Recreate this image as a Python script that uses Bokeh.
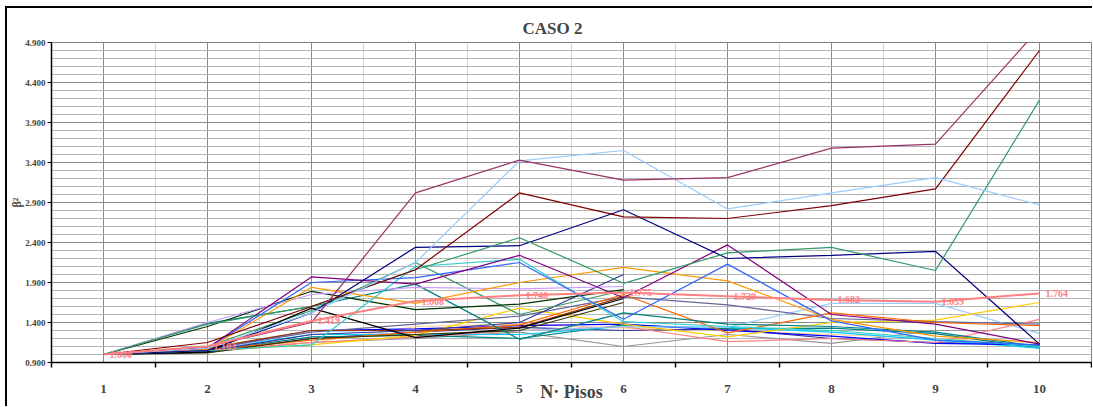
from bokeh.plotting import figure
from bokeh.models import Range1d, FixedTicker, NumeralTickFormatter, ColumnDataSource
from bokeh.core.properties import value
from bokeh.embed import file_html
from bokeh.resources import INLINE

pisos = [1, 2, 3, 4, 5, 6, 7, 8, 9, 10]
x_labels = ["1", "2", "3", "4", "5", "6", "7", "8", "9", "10"]

# beta^2 values per building (series of different length)
s_plum = [1.00, 1.10, 1.40, 3.02, 3.43, 3.18, 3.21, 3.58, 3.63, 5.08]
s_lblue = [1.00, 1.08, 1.52, 2.15, 3.42, 3.55, 2.82, 3.02, 3.21, 2.87]
s_dred = [1.00, 1.15, 1.60, 2.06, 3.02, 2.72, 2.70, 2.86, 3.07, 4.80]
s_sgreen = [1.00, 1.38, 1.60, 2.06, 2.46, 1.89, 2.27, 2.34, 2.05, 4.18]
s_navy = [1.00, 1.05, 1.52, 2.34, 2.36, 2.81, 2.20, 2.24, 2.29, 1.13]
s_purple = [1.00, 1.08, 1.97, 1.88, 2.24, 1.71, 2.37, 1.50, 1.38, 1.13]
s_blue = [1.00, 1.08, 1.90, 1.96, 2.15, 1.44, 2.13, 1.42, 1.18, 1.12]
s_turq = [1.00, 1.05, 1.12, 2.10, 2.19, 1.41, 1.35, 1.30, 1.20, 1.10]
s_orange = [1.00, 1.07, 1.84, 1.64, 1.90, 2.09, 1.92, 1.44, 1.23, 1.15]
s_lav = [1.00, 1.40, 1.75, 1.84, 1.82, 1.85]
s_dgreen = [1.00, 1.35, 1.79, 1.56, 1.63, 1.81]
s_black = [1.00, 1.03, 1.58, 1.21, 1.33, 1.70]
s_teal = [1.00, 1.39, 1.60, 1.88, 1.19, 1.52, 1.38, 1.35, 1.28, 1.10]
s_green2 = [1.00, 1.10, 1.55, 2.15, 1.50, 1.80]
s_slate = [1.00, 1.04, 1.25, 1.30, 1.40, 2.00]
s_redor = [1.00, 1.06, 1.18, 1.28, 1.37, 1.75, 1.27, 1.52, 1.40, 1.36]
s_grayblue = [1.00, 1.07, 1.28, 1.38, 1.48, 1.72, 1.62, 1.45, 1.41, 1.38]
s_gold = [1.00, 1.05, 1.12, 1.24, 1.58, 1.38, 1.22, 1.40, 1.43, 1.65]
s_lblue2 = [1.00, 1.04, 1.30, 1.25, 1.30, 1.35, 1.34, 1.64, 1.64, 1.26]
s_pink = [1.00, 1.05, 1.15, 1.22, 1.30, 1.35, 1.16, 1.20, 1.15, 1.44]
s_gray = [1.00, 1.03, 1.15, 1.20, 1.28, 1.10, 1.25, 1.14, 1.30, 1.30]
s_cyan = [1.00, 1.06, 1.25, 1.25, 1.25, 1.35, 1.34, 1.28, 1.18, 1.08]
s_teal2 = [1.00, 1.04, 1.22, 1.24, 1.20, 1.37, 1.32, 1.33, 1.26, 1.08]
s_pblue = [1.00, 1.06, 1.30, 1.32, 1.36, 1.38, 1.30, 1.23, 1.14, 1.12]
s_olive = [1.00, 1.02, 1.20, 1.25, 1.30, 1.65]
s_brown = [1.00, 1.08, 1.30, 1.30, 1.34, 1.72]
s_peach = [1.00, 1.10, 1.15, 1.35, 1.38, 1.33, 1.30, 1.25, 1.20, 1.15]
s_navy2 = [1.00, 1.03, 1.20, 1.28, 1.34, 1.30, 1.32, 1.20, 1.15, 1.12]
s_mean = [1.000, 1.103, 1.419, 1.668, 1.740, 1.775, 1.729, 1.682, 1.659, 1.764]

series = [
    (s_gray, "#969696"), (s_peach, "#FFCC99"), (s_navy2, "#333399"),
    (s_teal2, "#008080"), (s_cyan, "#00CCFF"), (s_pblue, "#0000FF"),
    (s_pink, "#FF8080"), (s_lblue2, "#99CCFF"), (s_gold, "#FFCC00"),
    (s_grayblue, "#666699"), (s_redor, "#FF6600"), (s_olive, "#333300"),
    (s_brown, "#993300"), (s_slate, "#333399"), (s_green2, "#339966"),
    (s_teal, "#008080"), (s_black, "#000000"), (s_dgreen, "#003300"),
    (s_lav, "#CC99FF"), (s_orange, "#FF9900"), (s_turq, "#33CCCC"),
    (s_blue, "#3366FF"), (s_purple, "#800080"), (s_navy, "#000080"),
    (s_sgreen, "#339966"), (s_dred, "#800000"), (s_lblue, "#99CCFF"),
    (s_plum, "#993366"),
]

y_major = [0.9, 1.4, 1.9, 2.4, 2.9, 3.4, 3.9, 4.4, 4.9]
y_minor = [round(0.9 + 0.1 * i, 1) for i in range(41)]
x_minor = [i + 0.5 for i in range(0, 11)]

p = figure(width=1087, height=400, output_backend="svg", toolbar_location=None,
           x_range=Range1d(0.5, 10.5), y_range=Range1d(0.9, 4.9),
           min_border_left=40, min_border_right=3, min_border_top=34, min_border_bottom=46)
p.styles = {"margin-left": "5px", "margin-top": "6px",
            "border-top": "2px solid #000000", "border-left": "2px solid #000000"}

p.title.text = "CASO 2"
p.title.text_font = "Liberation Serif"
p.title.text_font_size = "17px"
p.title.text_font_style = "bold"
p.title.align = "left"
p.title.offset = 471

p.outline_line_color = "#808080"
p.outline_line_width = 1

# x axis
p.xaxis.ticker = FixedTicker(ticks=pisos, minor_ticks=x_minor)
p.xaxis.major_label_overrides = {i: l for i, l in zip(pisos, x_labels)}
p.xaxis.major_tick_line_color = None
p.xaxis.minor_tick_in = 0
p.xaxis.minor_tick_out = 5
p.xaxis.minor_tick_line_color = "black"
p.xaxis.minor_tick_line_width = 1.5
p.xaxis.axis_line_color = "black"
p.xaxis.axis_line_width = 1.5
p.xaxis.major_label_standoff = 16
p.xaxis.major_label_text_font = "Liberation Serif"
p.xaxis.major_label_text_font_style = "bold"
p.xaxis.major_label_text_font_size = "13px"
p.xaxis.axis_label = "N· Pisos"
p.xaxis.axis_label_text_font = "Liberation Serif"
p.xaxis.axis_label_text_font_style = "bold"
p.xaxis.axis_label_text_font_size = "18px"
p.xaxis.axis_label_standoff = -14

# y axis
p.yaxis.ticker = FixedTicker(ticks=y_major, minor_ticks=y_minor)
p.yaxis.formatter = NumeralTickFormatter(format="0.000")
p.yaxis.major_tick_in = 0
p.yaxis.major_tick_out = 4
p.yaxis.minor_tick_line_color = None
p.yaxis.axis_line_color = "black"
p.yaxis.axis_line_width = 1.5
p.yaxis.major_label_standoff = 2
p.yaxis.major_label_text_font = "Liberation Serif"
p.yaxis.major_label_text_font_style = "bold"
p.yaxis.major_label_text_font_size = "9px"
p.yaxis.axis_label = "β²"
p.yaxis.axis_label_text_font = "Liberation Serif"
p.yaxis.axis_label_text_font_style = "bold"
p.yaxis.axis_label_text_font_size = "12px"
p.yaxis.axis_label_standoff = -2

# grids
p.xgrid.grid_line_color = "#8c8c8c"
p.xgrid.minor_grid_line_color = "#d4d4d4"
p.ygrid.grid_line_color = "#8c8c8c"
p.ygrid.minor_grid_line_color = "#b4b4b4"

for vals, col in series:
    p.line(pisos[:len(vals)], vals, line_color=col, line_width=1.2)

p.line(pisos, s_mean, line_color="#FF8080", line_width=2)
src = ColumnDataSource(dict(x=pisos, y=s_mean, t=["%.3f" % v for v in s_mean]))
p.text(x="x", y="y", text="t", source=src, x_offset=6, text_align="left",
       text_baseline="middle", text_color="#FF8080",
       text_font=value("Liberation Serif"), text_font_style="bold", text_font_size="10px")

open("out.html", "w").write(file_html(p, INLINE))
